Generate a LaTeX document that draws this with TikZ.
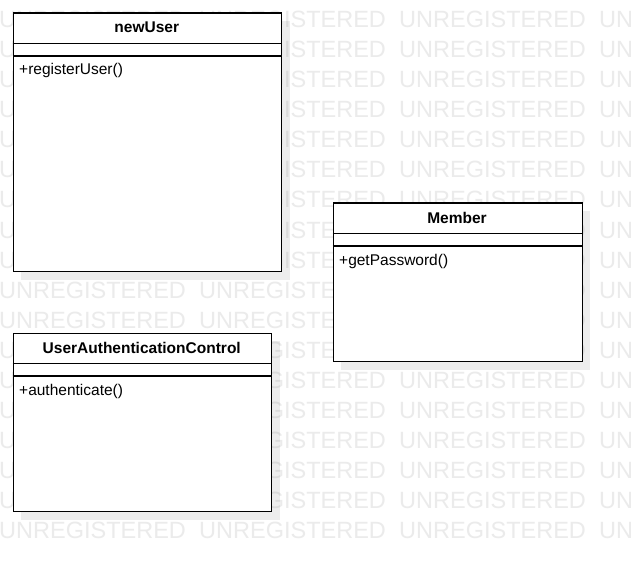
\documentclass[tikz,border=0pt]{standalone}
\usepackage{fontspec}
\setmainfont{Liberation Sans}
\definecolor{wmgray}{RGB}{235,235,235}
\begin{document}
\begin{tikzpicture}[x=1pt,y=-1pt,
  classbox/.style={draw=black, fill=white, line width=1.1pt, rectangle, inner sep=0pt, anchor=north west},
  shadowbox/.style={fill=black, fill opacity=0.07, draw=none, rectangle, inner sep=0pt, anchor=north west},
  sep/.style={draw=black, line width=1.1pt},
  ctitle/.style={font=\fontsize{15.5}{18}\selectfont\bfseries, inner sep=0pt, anchor=base},
  cop/.style={font=\fontsize{15.5}{18}\selectfont, inner sep=0pt, anchor=base west},
  wm/.style={font=\fontsize{23.5}{26}\selectfont, text=wmgray, inner sep=0pt, anchor=base west}
]
\useasboundingbox (0,0) rectangle (631,561);
\fill[white] (0,0) rectangle (631,561);
% watermark
\foreach \k in {0,...,17}{
  \foreach \c in {0,...,3}{
    \node[wm] (wm-\k-\c) at ({200*\c-1},{28+30*\k}) {UNREGISTERED};
  }
}
% newUser
\node[shadowbox, minimum width=268.5pt, minimum height=258.5pt] (nush) at (21,21) {};
\node[classbox, minimum width=268.5pt, minimum height=258.5pt] (nu) at (12.5,12.5) {};
\draw[sep] (12.5,43.5) -- (281,43.5);
\draw[sep] (12.5,56) -- (281,56);
\node[ctitle] (nut) at (146.75,33) {newUser};
\node[cop] (nuop) at (19,75) {+registerUser()};
% Member
\node[shadowbox, minimum width=249pt, minimum height=158.5pt] (mesh) at (341,211) {};
\node[classbox, minimum width=249pt, minimum height=158.5pt] (me) at (332.5,202.5) {};
\draw[sep] (332.5,233.5) -- (581.5,233.5);
\draw[sep] (332.5,246) -- (581.5,246);
\node[ctitle] (met) at (457,223) {Member};
\node[cop] (meop) at (339,265) {+getPassword()};
% UserAuthenticationControl
\node[shadowbox, minimum width=258.5pt, minimum height=178.5pt] (uash) at (21,341) {};
\node[classbox, minimum width=258.5pt, minimum height=178.5pt] (ua) at (12.5,332.5) {};
\draw[sep] (12.5,363.5) -- (271,363.5);
\draw[sep] (12.5,376) -- (271,376);
\node[ctitle] (uat) at (141.75,353) {UserAuthenticationControl};
\node[cop] (uaop) at (19,395) {+authenticate()};
\end{tikzpicture}
\end{document}
